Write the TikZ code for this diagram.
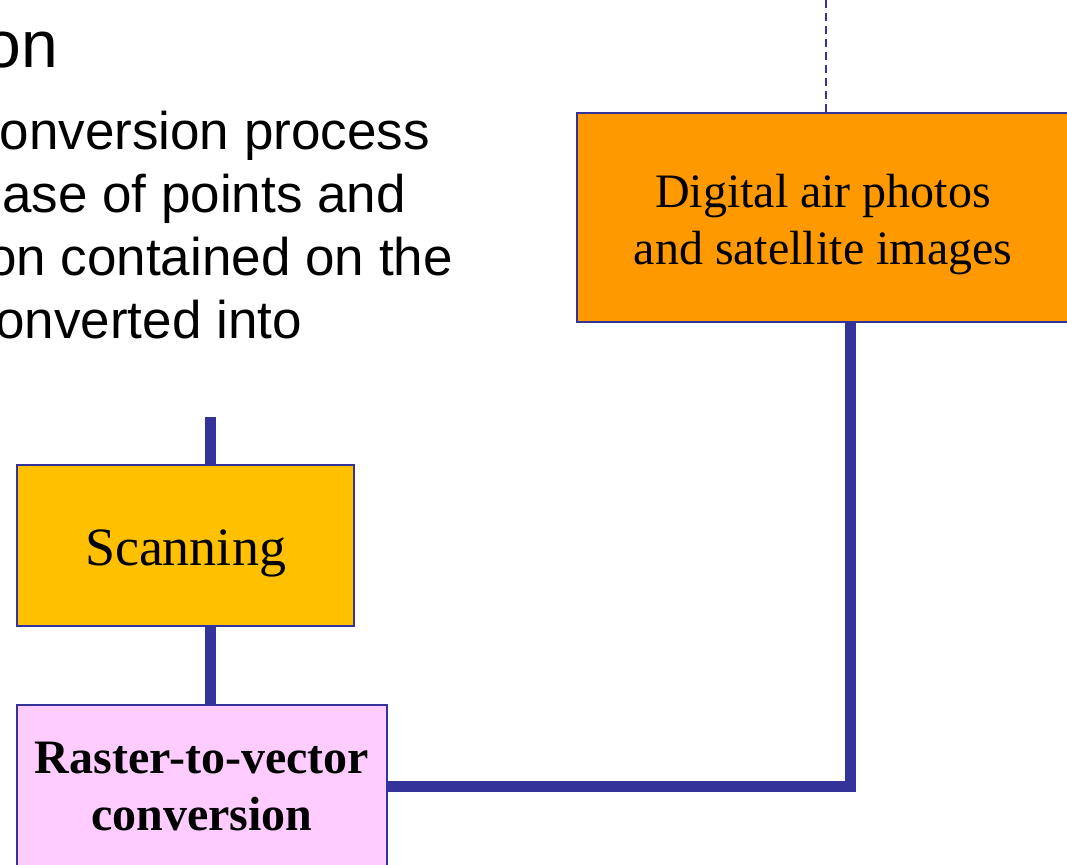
\documentclass[tikz,border=0pt]{standalone}
\usepackage{fontspec}
\setmainfont{Liberation Serif}
\newfontfamily\arialf{Liberation Sans}
\definecolor{navy}{HTML}{333399}
\definecolor{orangebox}{HTML}{FF9900}
\definecolor{goldbox}{HTML}{FFC000}
\definecolor{pinkbox}{HTML}{FFCCFF}
\newcommand{\boxtext}[4]{\parbox[c][#2][c]{#1}{\centering\vspace*{#3}#4\par}}
\begin{document}
\begin{tikzpicture}[x=1pt,y=-1pt,
  box/.style={draw=navy,line width=1.5pt,rectangle,inner sep=0pt,
    font=\fontsize{48}{57}\selectfont},
  conn/.style={draw=navy,line width=11pt,line join=miter},
  thinconn/.style={draw=navy,line width=2pt,dash pattern=on 8pt off 5pt},
  bodytxt/.style={anchor=base east,inner sep=0pt,font=\arialf\fontsize{53}{63}\selectfont},
  titletxt/.style={anchor=base east,inner sep=0pt,font=\arialf\fontsize{66}{79}\selectfont}]
\useasboundingbox (0,0) rectangle (1067,864);

% text
\node[titletxt] (title) at (58,68) {on};
\node[bodytxt] (l1) at (430,149) {onversion process};
\node[bodytxt] (l2) at (406,212) {ase of points and};
\node[bodytxt] (l3) at (453,275) {on contained on the};
\node[bodytxt] (l4) at (302,338) {onverted into};

% boxes
\node[box,fill=orangebox] (digital) at (823,217.5)
  {\boxtext{492pt}{209pt}{14pt}{Digital air photos\\and satellite images}};
\node[box,fill=goldbox,font=\fontsize{54}{64}\selectfont] (scan) at (185.5,545.5)
  {\boxtext{337pt}{161pt}{16pt}{Scanning}};
\node[box,fill=pinkbox,font=\fontsize{48}{57}\selectfont\bfseries] (raster) at (202,785.5)
  {\boxtext{370pt}{161pt}{3pt}{Raster-to-vector\\conversion}};

% connectors
\coordinate (dtop) at (826,0);
\draw[thinconn] (dtop) -- (dtop |- digital.north);
\coordinate (stop) at (210,417);
\draw[conn] (stop) -- (stop |- scan.north);
\draw[conn] (scan.south -| stop) -- (raster.north -| stop);
\coordinate (corner) at (850,786);
\draw[conn] (raster.east |- corner) -- (corner) -- (corner |- digital.south);
\end{tikzpicture}
\end{document}
